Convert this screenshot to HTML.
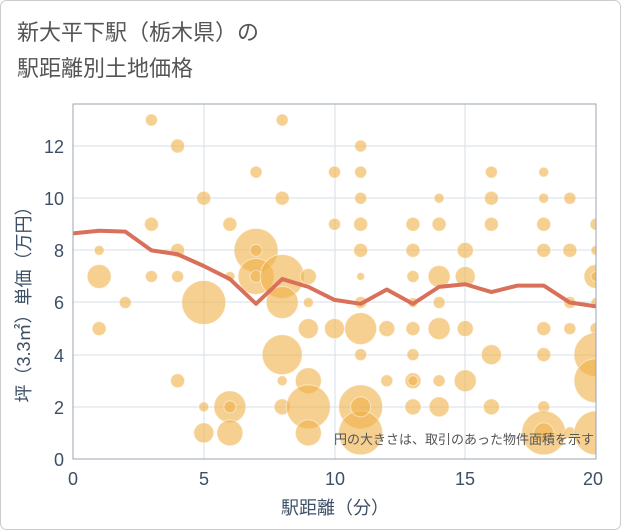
<!DOCTYPE html>
<html><head><meta charset="utf-8"><style>
body{margin:0;background:#fff;}
svg{display:block;font-family:"Liberation Sans","Noto Sans CJK JP",sans-serif;}
</style></head><body>
<svg width="621" height="530" viewBox="0 0 621 530">
<rect x="0.5" y="0.5" width="620" height="529" rx="6" fill="#fff" stroke="#ccc"/>
<text x="17" y="40" font-size="22" fill="#555">新大平下駅（栃木県）の</text>
<text x="17" y="76" font-size="22" fill="#555">駅距離別土地価格</text>
<defs><clipPath id="c"><rect x="73" y="104" width="523" height="355"/></clipPath></defs>
<g stroke="#d5dfea" stroke-width="1">
<line x1="204" y1="104" x2="204" y2="459"/><line x1="335" y1="104" x2="335" y2="459"/><line x1="465" y1="104" x2="465" y2="459"/>
<line x1="73" y1="407" x2="596" y2="407"/><line x1="73" y1="355" x2="596" y2="355"/><line x1="73" y1="302" x2="596" y2="302"/><line x1="73" y1="250" x2="596" y2="250"/><line x1="73" y1="198" x2="596" y2="198"/><line x1="73" y1="146" x2="596" y2="146"/>
</g>
<g id="b" clip-path="url(#c)" fill="#f0b048" fill-opacity="0.6" stroke="#fff" stroke-opacity="0.5" stroke-width="1"></g>
<polyline clip-path="url(#c)" fill="none" stroke="#d9705a" stroke-width="4" stroke-linejoin="round" id="ln"/>
<rect x="73" y="104" width="523" height="355" fill="none" stroke="#9aa5b1"/>
<g font-size="18" fill="#3d4f66" text-anchor="end">
<text x="64" y="466">0</text><text x="64" y="414">2</text><text x="64" y="362">4</text><text x="64" y="309">6</text><text x="64" y="257">8</text><text x="64" y="205">10</text><text x="64" y="153">12</text>
</g>
<g font-size="18" fill="#3d4f66" text-anchor="middle">
<text x="73" y="485">0</text><text x="204" y="485">5</text><text x="335" y="485">10</text><text x="465" y="485">15</text><text x="593" y="485">20</text>
<text x="335" y="514">駅距離（分）</text>
</g>
<text transform="translate(30,300) rotate(-90)" font-size="18" fill="#3d4f66" text-anchor="middle">坪（3.3㎡）単価（万円）</text>
<text x="594" y="444" font-size="13" fill="#555" text-anchor="end">円の大きさは、取引のあった物件面積を示す</text>
</svg>
<script>
var X=x=>73+26.15*x,Y=y=>459-26.08*y;
var d=[[1,8,5],[1,7,12],[1,5,7],[2,6,6],[3,13,6],[3,9,7],[3,7,6],[4,12,7],[4,8,7],[4,7,6],[4,3,7],[5,10,7],[5,6,22],[5,2,5],[5,1,10],[6,9,7],[6,7,5],[6,2,16],[6,2,6],[6,1,13],[7,11,6],[7,8,22],[7,7,18],[7,8,6],[7,7,6],[8,13,6],[8,10,7],[8,7,22],[8,6,16],[8,4,20],[8,3,5],[8,2,8],[9,7,8],[9,6,5],[9,5,10],[9,3,13],[9,2,22],[9,1,13],[10,11,6],[10,9,6],[10,5,10],[11,12,6],[11,11,6],[11,10,6],[11,9,7],[11,8,7],[11,7,4],[11,6,6],[11,5,16],[11,4,6],[11,2,22],[11,1,22],[11,2,10],[12,5,8],[12,3,6],[13,9,7],[13,8,7],[13,7,6],[13,6,5],[13,5,7],[13,4,6],[13,3,8],[13,3,5],[13,2,8],[14,10,5],[14,9,7],[14,7,11],[14,6,6],[14,5,11],[14,3,6],[14,2,10],[15,8,8],[15,7,10],[15,5,8],[15,3,11],[16,11,6],[16,10,7],[16,9,7],[16,4,10],[16,2,8],[18,11,5],[18,10,5],[18,9,7],[18,8,7],[18,5,7],[18,4,7],[18,2,6],[18,1,22],[18,1,10],[19,10,6],[19,8,7],[19,6,6],[19,5,6],[19,1,6],[20,9,6],[20,8,5],[20,7,12],[20,6,5],[20,5,6],[20,4,22],[20,3,22],[20,1,22],[20,7,5]];
var g=document.getElementById('b'),s='';
d.forEach(p=>{s+='<circle cx="'+X(p[0])+'" cy="'+Y(p[1])+'" r="'+p[2]+'"/>';});
g.innerHTML=s;
var L=[[0,8.65],[1,8.75],[2,8.72],[3,8.0],[4,7.85],[5,7.4],[6,6.9],[7,5.95],[8,6.9],[9,6.6],[10,6.1],[11,5.95],[12,6.5],[13,5.95],[14,6.6],[15,6.7],[16,6.4],[17,6.65],[18,6.65],[19,6.0],[20,5.85]];
document.getElementById('ln').setAttribute('points',L.map(p=>X(p[0])+','+Y(p[1])).join(' '));
</script>
</body></html>
